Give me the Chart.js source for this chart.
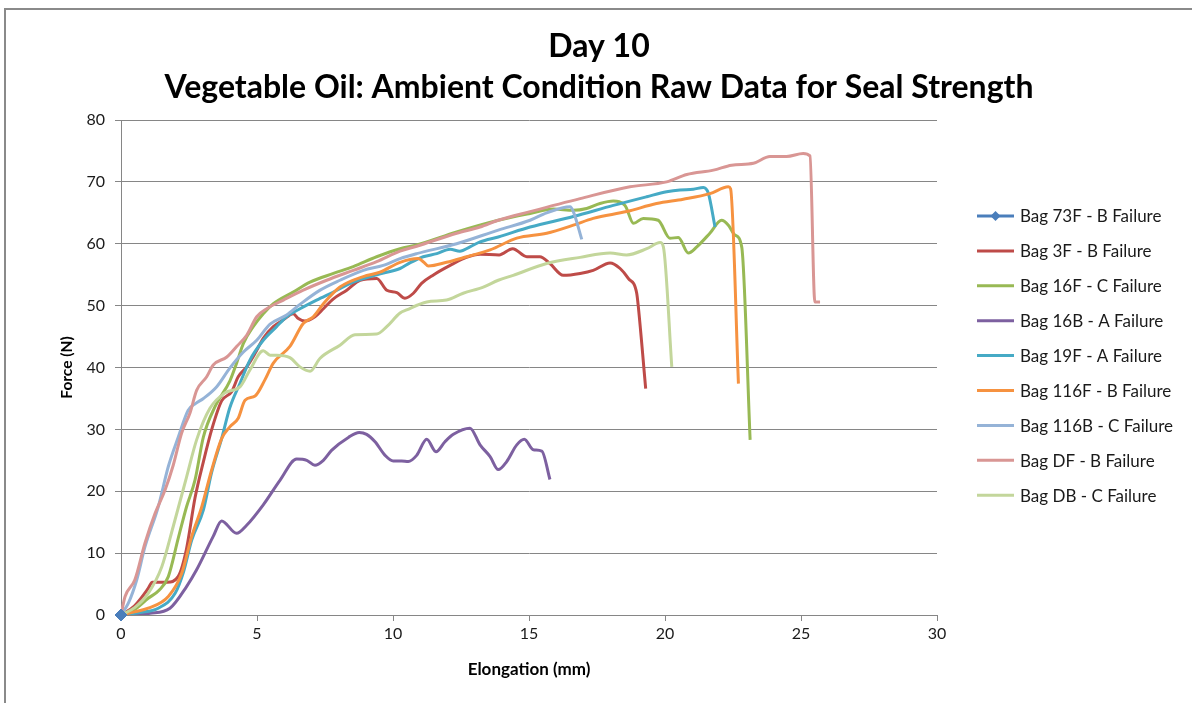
<!DOCTYPE html>
<html>
<head>
<meta charset="utf-8">
<script src="https://cdn.jsdelivr.net/npm/chart.js@4.4.1/dist/chart.umd.min.js"></script>
<style>
  html, body { margin: 0; padding: 0; background: #fff; overflow: hidden; }
  #frame { position: absolute; left: 4px; top: 8px; width: 1300px; height: 800px;
           border: 2px solid #8a8a8a; box-sizing: border-box; }
  #c { position: absolute; left: 0; top: 0; }
</style>
</head>
<body>
<div id="frame"></div>
<canvas id="c" width="1192" height="703"></canvas>
<script>
// Seal strength pull tests, day 10, vegetable oil at ambient condition.
// Elongation in mm, force in N.

const titleLines = ['Day 10', 'Vegetable Oil: Ambient Condition Raw Data for Seal Strength'];

const seriesNames = [
  'Bag 73F - B Failure', 'Bag 3F - B Failure', 'Bag 16F - C Failure',
  'Bag 16B - A Failure', 'Bag 19F - A Failure', 'Bag 116F - B Failure',
  'Bag 116B - C Failure', 'Bag DF - B Failure', 'Bag DB - C Failure'
];

const bag73F_x = [0];
const bag73F_y = [0];

const bag3F_x = [0, 0.5, 1.0, 1.15, 1.7, 2.1, 2.4, 2.72, 3.03, 3.35, 3.7, 4.07, 4.31, 4.62, 4.93, 5.23, 5.6, 5.97, 6.33, 6.52, 6.76, 7.13, 7.44, 7.81, 8.3, 8.79, 9.4, 9.77, 10.14, 10.44, 10.75, 11.05, 11.5, 12.1, 12.7, 13.2, 13.9, 14.4, 14.92, 15.4, 15.77, 16.26, 16.88, 17.36, 17.98, 18.35, 18.65, 18.96, 19.02, 19.29];
const bag3F_y = [0, 1.5, 4.3, 5.3, 5.3, 6.2, 10.5, 18.9, 24.8, 30.2, 34.6, 36.1, 38.5, 40.1, 42.3, 44.7, 46.6, 47.7, 48.7, 47.9, 47.5, 48.2, 49.5, 51.1, 52.5, 54.1, 54.4, 52.5, 52.1, 51.2, 52.0, 53.6, 55.0, 56.5, 57.8, 58.3, 58.2, 59.2, 57.9, 57.9, 56.8, 54.9, 55.2, 55.7, 56.9, 56.0, 54.4, 52.0, 49.8, 36.6];

const bag16F_x = [0, 0.5, 1.0, 1.4, 1.74, 2.11, 2.41, 2.72, 3.03, 3.46, 4.0, 4.25, 4.5, 4.86, 5.23, 5.6, 6.33, 6.95, 7.81, 8.54, 9.4, 10.26, 10.87, 12.34, 13.87, 15.04, 15.9, 16.63, 17.12, 17.61, 18.1, 18.53, 18.84, 19.2, 19.75, 20.18, 20.49, 20.86, 21.17, 21.65, 22.08, 22.33, 22.57, 22.82, 23.13];
const bag16F_y = [0, 0.9, 2.7, 4.0, 6.2, 12.5, 17.5, 21.8, 28.8, 33.7, 37.8, 40.7, 43.9, 46.6, 48.7, 50.3, 52.2, 53.8, 55.2, 56.3, 57.9, 59.2, 59.8, 61.9, 63.8, 64.9, 65.6, 65.4, 65.7, 66.5, 66.9, 66.2, 63.3, 64.1, 63.8, 60.9, 61.0, 58.5, 59.5, 61.7, 63.8, 63.0, 61.4, 59.5, 28.3];

const bag16B_x = [0, 1.07, 1.8, 2.41, 2.78, 3.39, 3.7, 4.25, 4.62, 5.23, 5.85, 6.46, 6.83, 7.13, 7.44, 7.74, 8.36, 8.76, 9.03, 9.34, 9.71, 10.01, 10.32, 10.56, 10.87, 11.24, 11.58, 11.91, 12.22, 12.83, 13.2, 13.57, 13.87, 14.18, 14.55, 14.83, 15.16, 15.47, 15.77];
const bag16B_y = [0, 0.3, 1.1, 4.6, 7.3, 12.7, 15.2, 13.2, 14.5, 17.8, 21.8, 25.2, 25.0, 24.2, 25.0, 26.6, 28.7, 29.5, 29.2, 28.0, 25.8, 24.9, 24.9, 24.8, 25.8, 28.4, 26.4, 28.0, 29.2, 30.2, 27.5, 25.6, 23.5, 24.8, 27.5, 28.4, 26.7, 26.5, 21.9];

const bag19F_x = [0, 0.7, 1.37, 1.99, 2.3, 2.6, 3.03, 3.33, 3.7, 4.0, 4.38, 4.74, 5.23, 5.72, 6.09, 6.58, 7.19, 7.81, 8.54, 9.4, 10.26, 10.62, 11.11, 11.61, 12.1, 12.46, 12.83, 13.2, 13.87, 15.04, 16.63, 18.1, 19.33, 20.06, 20.55, 21.04, 21.41, 21.59, 21.84];
const bag19F_y = [0, 0.4, 1.1, 3.5, 7.0, 12.1, 17.0, 23.0, 28.5, 33.5, 37.5, 41.2, 44.4, 46.6, 48.2, 49.5, 50.9, 52.2, 53.8, 55.0, 56.0, 56.9, 57.9, 58.4, 59.1, 58.8, 59.5, 60.3, 61.1, 62.7, 64.4, 66.2, 67.6, 68.4, 68.7, 68.8, 69.1, 68.2, 62.7];

const bag116F_x = [0, 0.5, 1.0, 1.74, 2.23, 2.6, 2.97, 3.33, 3.7, 4.0, 4.31, 4.56, 4.93, 5.29, 5.6, 6.21, 6.7, 7.07, 7.44, 8.05, 8.91, 9.52, 10.26, 10.93, 11.11, 11.3, 11.97, 12.71, 13.57, 14.55, 15.65, 16.63, 17.36, 18.59, 19.69, 20.67, 21.65, 22.33, 22.41, 22.7];
const bag116F_y = [0, 0.5, 1.1, 3.0, 6.7, 12.7, 17.5, 23.4, 28.5, 30.4, 31.8, 34.7, 35.4, 38.0, 40.7, 43.4, 47.1, 48.2, 50.3, 53.0, 54.7, 55.4, 57.0, 57.6, 57.1, 56.4, 57.0, 57.9, 59.0, 60.9, 61.7, 63.0, 64.1, 65.2, 66.5, 67.2, 68.1, 69.2, 68.9, 37.4];

const bag116B_x = [0, 0.27, 0.58, 0.88, 1.37, 1.74, 2.11, 2.47, 2.75, 3.03, 3.52, 4.0, 4.5, 4.99, 5.48, 6.09, 6.58, 7.32, 8.05, 8.91, 9.64, 10.26, 10.87, 12.34, 13.87, 15.04, 15.65, 16.51, 16.63, 16.94];
const bag116B_y = [0, 1.9, 5.7, 11.0, 17.5, 24.0, 28.8, 33.1, 34.2, 35.0, 36.9, 39.9, 42.5, 44.4, 47.0, 48.5, 50.2, 52.5, 54.1, 55.7, 56.5, 57.6, 58.4, 60.0, 62.2, 63.8, 65.0, 66.0, 65.2, 60.7];

const bagDF_x = [0, 0.15, 0.51, 0.88, 1.25, 1.62, 1.92, 2.23, 2.54, 2.78, 3.15, 3.39, 3.89, 4.25, 4.62, 4.99, 5.36, 5.97, 6.7, 7.56, 8.54, 9.4, 10.26, 10.87, 12.34, 13.2, 13.87, 15.04, 16.88, 18.71, 20.06, 20.8, 21.78, 22.45, 23.25, 23.86, 24.47, 25.08, 25.33, 25.51, 25.7];
const bagDF_y = [0, 3.0, 5.7, 11.6, 16.4, 20.2, 24.2, 29.4, 32.7, 36.3, 38.5, 40.4, 41.7, 43.4, 45.2, 48.2, 49.5, 50.9, 52.5, 54.1, 55.7, 57.1, 58.8, 59.6, 61.7, 62.7, 63.8, 65.2, 67.3, 69.2, 70.0, 71.2, 71.9, 72.7, 73.0, 74.1, 74.1, 74.6, 74.2, 50.6, 50.6];

const bagDB_x = [0, 0.5, 1.0, 1.5, 1.92, 2.41, 2.78, 3.27, 3.82, 4.38, 4.74, 5.23, 5.48, 5.72, 6.21, 6.58, 6.95, 7.32, 8.05, 8.6, 9.4, 9.77, 10.26, 10.5, 11.24, 11.97, 12.58, 13.32, 13.87, 14.42, 15.65, 16.88, 17.98, 18.59, 19.33, 19.82, 19.94, 20.25];
const bagDB_y = [0, 1.2, 3.5, 7.8, 14.3, 22.3, 28.3, 33.4, 35.9, 36.9, 39.6, 42.7, 42.0, 42.0, 41.6, 40.1, 39.4, 41.5, 43.6, 45.3, 45.4, 46.6, 48.8, 49.3, 50.6, 50.9, 52.0, 53.0, 54.1, 54.9, 56.8, 57.8, 58.5, 58.2, 59.2, 60.2, 59.5, 40.1];

const xTicks = [0, 5, 10, 15, 20, 25, 30];
const yTicks = [0, 10, 20, 30, 40, 50, 60, 70, 80];

const seriesX = [bag73F_x, bag3F_x, bag16F_x, bag16B_x, bag19F_x, bag116F_x, bag116B_x, bagDF_x, bagDB_x];
const seriesY = [bag73F_y, bag3F_y, bag16F_y, bag16B_y, bag19F_y, bag116F_y, bag116B_y, bagDF_y, bagDB_y];
const seriesColors = ['#4A7EBB', '#BE4B48', '#98B954', '#7D60A0', '#46AAC5', '#F69240', '#95B3D7', '#D99694', '#C3D69B'];

const FONT = 'Lato, "Open Sans", sans-serif';

// Later series sit on top; the single-point 73F marker is kept visible above all
const datasets = seriesNames.map((name, i) => ({
  label: name,
  data: seriesX[i].map((x, k) => ({ x: x, y: seriesY[i][k] })),
  showLine: true,
  borderColor: seriesColors[i],
  backgroundColor: seriesColors[i],
  borderWidth: 3,
  cubicInterpolationMode: 'monotone',
  pointRadius: i === 0 ? 6 : 0,
  pointBorderWidth: i === 0 ? 1 : 0,
  pointStyle: i === 0 ? 'rectRot' : 'circle',
  clip: i === 0 ? false : undefined,
  order: i === 0 ? -1 : seriesNames.length - i
}));

// Two-line chart title, centred across the whole figure
const figureTitle = {
  id: 'figureTitle',
  afterDraw(chart) {
    const ctx = chart.ctx;
    ctx.save();
    ctx.font = 'bold 32px ' + FONT;
    ctx.fillStyle = '#000';
    ctx.textAlign = 'center';
    ctx.textBaseline = 'alphabetic';
    ctx.fillText(titleLines[0], 599, 57);
    ctx.fillText(titleLines[1], 599, 98);
    ctx.restore();
  }
};

// Legend to the right of the plot: line sample plus label per series
const sideLegend = {
  id: 'sideLegend',
  afterDraw(chart) {
    const ctx = chart.ctx;
    ctx.save();
    ctx.font = '17px ' + FONT;
    ctx.textBaseline = 'middle';
    chart.data.datasets.forEach((ds, i) => {
      const y = 216 + i * 34.9;
      ctx.strokeStyle = ds.borderColor;
      ctx.lineWidth = 3;
      ctx.beginPath();
      ctx.moveTo(977, y);
      ctx.lineTo(1014, y);
      ctx.stroke();
      if (i === 0) {
        ctx.fillStyle = ds.borderColor;
        ctx.beginPath();
        ctx.moveTo(995.5, y - 5);
        ctx.lineTo(1000.5, y);
        ctx.lineTo(995.5, y + 5);
        ctx.lineTo(990.5, y);
        ctx.closePath();
        ctx.fill();
      }
      ctx.fillStyle = '#1a1a1a';
      ctx.fillText(ds.label, 1020, y + 1);
    });
    ctx.restore();
  }
};

new Chart(document.getElementById('c'), {
  type: 'scatter',
  data: { datasets },
  plugins: [figureTitle, sideLegend],
  options: {
    responsive: false,
    animation: false,
    devicePixelRatio: 1,
    layout: { padding: { left: 50, right: 255, top: 120, bottom: 0 } },
    plugins: {
      legend: { display: false },
      tooltip: { enabled: false },
      title: { display: false }
    },
    scales: {
      x: {
        type: 'linear',
        min: 0, max: 30,
        afterBuildTicks: s => { s.ticks = xTicks.map(v => ({ value: v })); },
        afterFit: s => { s.height = 88; },
        ticks: { color: '#1a1a1a', font: { family: FONT, size: 16 }, padding: 3 },
        grid: { drawOnChartArea: false, drawTicks: true, tickLength: 6, color: '#868686' },
        border: { color: '#868686', width: 1 },
        title: { display: true, text: 'Elongation (mm)', color: '#000',
                 font: { family: FONT, size: 17, weight: 'bold' }, padding: { top: 4, bottom: 23 } }
      },
      y: {
        type: 'linear',
        min: 0, max: 80,
        afterBuildTicks: s => { s.ticks = yTicks.map(v => ({ value: v })); },
        afterFit: s => { s.width = 71; },
        ticks: { color: '#1a1a1a', font: { family: FONT, size: 16 }, padding: 10 },
        grid: { color: '#868686', tickLength: 6 },
        border: { color: '#868686', width: 1 },
        title: { display: true, text: 'Force (N)', color: '#000',
                 font: { family: FONT, size: 15.5, weight: 'bold' }, padding: { top: 8, bottom: 0 } }
      }
    }
  }
});
</script>
</body>
</html>
